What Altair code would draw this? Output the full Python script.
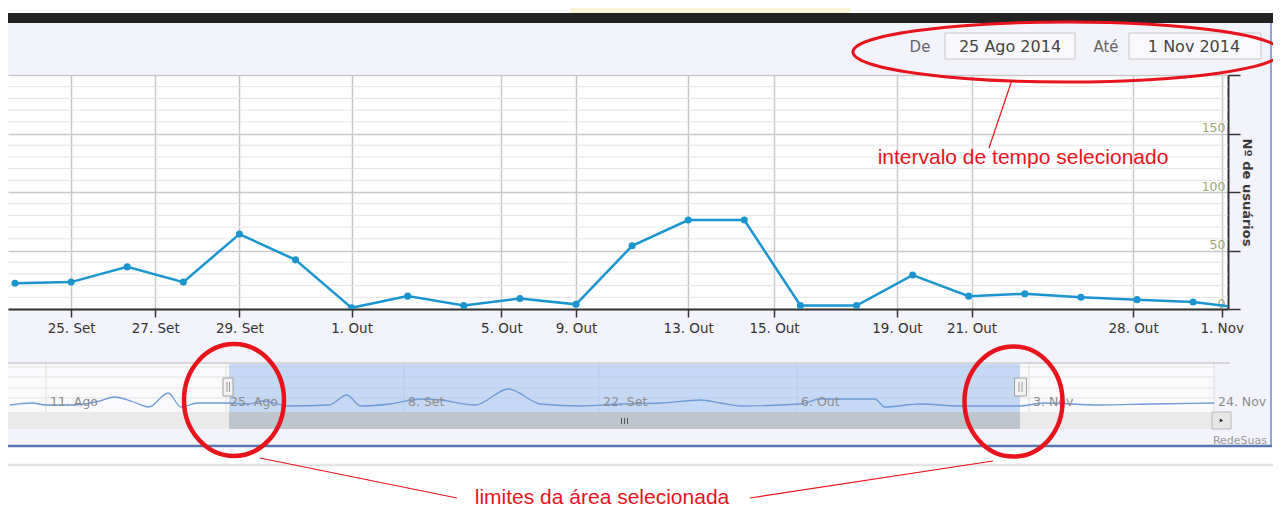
import json
import altair as alt
import pandas as pd

# ---------------- data ----------------
point_idx = list(range(23))
users = [22, 23, 36, 23, 64, 42, 1, 11, 3, 9, 4, 54, 76, 76, 3, 3, 29, 11, 13, 10, 8, 6, 0]

tick_pos = [1.0, 2.5, 4.0, 6.0, 8.67, 10.0, 12.0, 13.53, 15.72, 17.05, 19.93, 21.51]
tick_lab = ["25. Set", "27. Set", "29. Set", "1. Out", "5. Out", "9. Out",
            "13. Out", "15. Out", "19. Out", "21. Out", "28. Out", "1. Nov"]

nav_day = [-16.8, -15.1, -14.0, -12.1, -9.8, -8.7, -7.2, -6.0, -4.5, -3.5,
           -2.2, -1.0, 0.0, 1.7, 2.9, 4.9, 8.1, 9.5, 10.6, 12.9,
           15.2, 16.6, 19.1, 21.5, 23.8, 26.7, 29.5, 32.4, 35.2, 36.6,
           38.0, 42.4, 44.8, 51.4, 52.6, 56.8, 61.6, 68.8, 71.7, 78.0,
           83.7, 91.0]
nav_val = [20, 40, 20, 20, 60, 100, 50, 0, 140, 0,
           40, 40, 40, 30, 60, 10, 20, 120, 10, 30,
           80, 70, 20, 180, 30, 10, 30, 40, 70, 40,
           10, 30, 80, 80, 0, 30, 10, 10, 40, 20,
           30, 40]

nav_tick_day = [-14, 0, 14, 28, 42, 70, 91]
nav_tick_lab = ["11. Ago", "25. Ago", "8. Set", "22. Set", "6. Out", "3. Nov", "24. Nov"]

minor_grid = [v for v in range(10, 200, 10) if v % 50 != 0]

date_from = "25 Ago 2014"
date_to = "1 Nov 2014"

# ---------------- layout helpers (decorations) ----------------
W, H = 1220, 234
one = pd.DataFrame({"k": [0]})
RED = "#e8141c"
FONT = "DejaVu Sans"


def rect(x1, x2, y1, y2, **kw):
    return alt.Chart(one).mark_rect(**kw).encode(
        x=alt.value(x1), x2=alt.value(x2), y=alt.value(y1), y2=alt.value(y2))


def rule(x1, y1, x2, y2, **kw):
    return alt.Chart(one).mark_rule(**kw).encode(
        x=alt.value(x1), y=alt.value(y1), x2=alt.value(x2), y2=alt.value(y2))


def text(x, y, s, **kw):
    return alt.Chart(one).mark_text(text=s, **kw).encode(x=alt.value(x), y=alt.value(y))


def ellipse(cx, cy, rx, ry, **kw):
    r = ry / rx
    k = 0.5523
    p = (f"M-1,0C-1,{-k*r:.4f} {-k:.4f},{-r:.4f} 0,{-r:.4f}"
         f"C{k:.4f},{-r:.4f} 1,{-k*r:.4f} 1,0"
         f"C1,{k*r:.4f} {k:.4f},{r:.4f} 0,{r:.4f}"
         f"C{-k:.4f},{r:.4f} -1,{k*r:.4f} -1,0Z")
    return alt.Chart(one).mark_point(shape=p, size=(2 * rx) ** 2, filled=False,
                                     opacity=1, **kw).encode(x=alt.value(cx), y=alt.value(cy))


layers = []

# page frame
layers += [
    rect(0, 1265, -67, -62, color="white"),
    rect(562, 842, -67, -62, color="#fcf6d9"),
    rect(0, 1265, -62, -52, color="#232323"),
    rect(1264, 1265, -52, 432, color="white"),
    rect(0, 1265, 372, 432, color="white"),
    rule(1263, -52, 1263, 372, color="#6f8fc6", strokeWidth=1.5),
    rule(0, 371, 1264, 371, color="#5876b0", strokeWidth=2.5),
    rule(0, 390, 1265, 390, color="#e4e4e4", strokeWidth=2.5),
]

# header: date range inputs
layers += [
    rect(937, 1067, -42, -16, fill="#f9f9fd", stroke="#c8c8c8", strokeWidth=1),
    rect(1121, 1253, -42, -16, fill="#f9f9fd", stroke="#c8c8c8", strokeWidth=1),
    text(912, -28.5, "De", font=FONT, fontSize=15, color="#666666", baseline="middle"),
    text(1098, -28.5, "Até", font=FONT, fontSize=15, color="#666666", baseline="middle"),
    text(1002, -28.5, date_from, font=FONT, fontSize=16, color="#444444", baseline="middle"),
    text(1186, -28.5, date_to, font=FONT, fontSize=16, color="#444444", baseline="middle"),
]

# main chart
main_df = pd.DataFrame({"idx": point_idx, "users": users})
xscale = alt.Scale(domain=[-0.1248, 21.622], nice=False, zero=False)
yscale = alt.Scale(domain=[0, 200], nice=False, zero=True)
lab_expr = f"{json.dumps(tick_lab)}[indexof({json.dumps(tick_pos)}, datum.value)]"

minor = alt.Chart(pd.DataFrame({"g": minor_grid})).mark_rule(
    color="#e4e4e4", strokeWidth=1).encode(y=alt.Y("g:Q", scale=yscale, axis=None))

line = alt.Chart(main_df).mark_line(color="#1b95d0", strokeWidth=2.5, clip=True).encode(
    x=alt.X("idx:Q", scale=xscale, axis=alt.Axis(
        values=tick_pos, labelExpr=lab_expr, title=None, grid=True,
        gridColor="#c9c9c9", gridWidth=1.5, domainColor="#333333", domainWidth=2,
        tickColor="#333333", tickSize=8, tickWidth=1.5, labelColor="#333333",
        labelFont=FONT, labelFontSize=13.5, labelPadding=4, labelFlush=False,
        labelOverlap=False)),
    y=alt.Y("users:Q", scale=yscale, axis=alt.Axis(
        orient="right", values=[0, 50, 100, 150, 200], grid=True,
        gridColor="#c9c9c9", gridWidth=1.5, domainColor="#333333", domainWidth=2,
        tickColor="#333333", tickSize=12, tickWidth=1.5, labelColor="#a3a86e",
        labelFont=FONT, labelFontSize=12.5, labelAlign="right",
        labelBaseline="alphabetic", labelPadding=-15, labelOffset=-2,
        labelFlush=False, labelExpr="datum.value == 200 ? '' : datum.label",
        title="Nº de usuários", titleAngle=90, titleX=18, titleY=117,
        titleFont=FONT, titleFontSize=13, titleFontWeight="bold",
        titleColor="#3a3a3a", titleAlign="center", titleBaseline="middle")),
)
pts = alt.Chart(main_df).mark_circle(color="#1b95d0", size=50, opacity=1, clip=True).encode(
    x=alt.X("idx:Q", scale=xscale, axis=None),
    y=alt.Y("users:Q", scale=yscale, axis=None),
)
layers += [minor, line, pts]

# navigator
navx = alt.Scale(domain=nav_tick_day, range=[38, 218, 396, 591, 789, 1021, 1206],
                 nice=False, zero=False)
navy = alt.Scale(domain=[0, 200], range=[332, 312], nice=False, zero=False)
nav_df = pd.DataFrame({"day": nav_day, "v": nav_val})
navt_df = pd.DataFrame({"day": nav_tick_day, "lab": nav_tick_lab})

layers += [rect(0, 1206, 288, 337, color="#fafafd")]
for gy in [292, 302, 313, 323]:
    layers.append(rule(0, gy, 1206, gy, color="#e3e3e3", strokeWidth=1))
layers += [
    alt.Chart(navt_df).mark_rule(color="#dedede", strokeWidth=1).encode(
        x=alt.X("day:Q", scale=navx, axis=None), y=alt.value(288), y2=alt.value(337)),
    rect(221, 1012, 289, 337, color="#a3c3ee", opacity=0.6),
    alt.Chart(nav_df).mark_line(color="#6f9bd6", strokeWidth=1.3, interpolate="monotone").encode(
        x=alt.X("day:Q", scale=navx, axis=None), y=alt.Y("v:Q", scale=navy, axis=None)),
    alt.Chart(navt_df).mark_text(align="left", dx=4, baseline="alphabetic", font=FONT,
                                 fontSize=12.5, color="#8c8c8c").encode(
        x=alt.X("day:Q", scale=navx, axis=None), y=alt.value(331), text="lab:N"),
    rule(0, 288, 1222, 288, color="#b4b4b4", strokeWidth=1),
    rect(0, 1204, 337, 354, color="#eaeaea"),
    rect(221, 1012, 337, 354, color="#bec5cd"),
    rule(613.5, 343, 613.5, 349, color="#555555", strokeWidth=1),
    rule(616.5, 343, 616.5, 349, color="#555555", strokeWidth=1),
    rule(619.5, 343, 619.5, 349, color="#555555", strokeWidth=1),
    rect(1204, 1223, 337, 354, fill="#e6e6e6", stroke="#b8b8b8", strokeWidth=1),
    alt.Chart(one).mark_point(shape="triangle-right", size=18, filled=True, color="#333333",
                              opacity=1).encode(x=alt.value(1213.5), y=alt.value(345.5)),
    rect(215, 225, 303, 321, fill="#f2f2f2", stroke="#a0a0a0", strokeWidth=1),
    rule(219, 307, 219, 317, color="#999999", strokeWidth=1),
    rule(221.5, 307, 221.5, 317, color="#999999", strokeWidth=1),
    rect(1006.5, 1018.5, 303, 321, fill="#f2f2f2", stroke="#a0a0a0", strokeWidth=1),
    rule(1011, 307, 1011, 317, color="#999999", strokeWidth=1),
    rule(1014, 307, 1014, 317, color="#999999", strokeWidth=1),
    text(1259, 366, "RedeSuas", font=FONT, fontSize=11, color="#9a9a9a", align="right"),
]

# red annotations
layers += [
    ellipse(1059, -23, 214, 30, stroke=RED, strokeWidth=3),
    rule(1004, 5, 981, 73, color=RED, strokeWidth=1.2),
    text(1015, 89, "intervalo de tempo selecionado", font="Liberation Sans",
         fontSize=21, color=RED, align="center", baseline="alphabetic"),
    ellipse(226, 325, 50, 56, stroke=RED, strokeWidth=4.5),
    ellipse(1005.5, 326.5, 49, 55, stroke=RED, strokeWidth=4.5),
    rule(252, 383, 449, 423, color=RED, strokeWidth=1.2),
    rule(985, 386, 742, 423, color=RED, strokeWidth=1.2),
    text(594, 429, "limites da área selecionada", font="Liberation Sans",
         fontSize=21, color=RED, align="center", baseline="alphabetic"),
]

chart = alt.layer(*layers).resolve_scale(x="independent", y="independent").properties(
    width=W, height=H,
    autosize=alt.AutoSizeParams(type="none"),
    padding={"left": 0, "top": 67, "right": 45, "bottom": 198},
).configure(background="#f3f3fb").configure_view(fill="white", stroke=None)

chart.save("out.html", embed_options={"renderer": "svg", "actions": False})
